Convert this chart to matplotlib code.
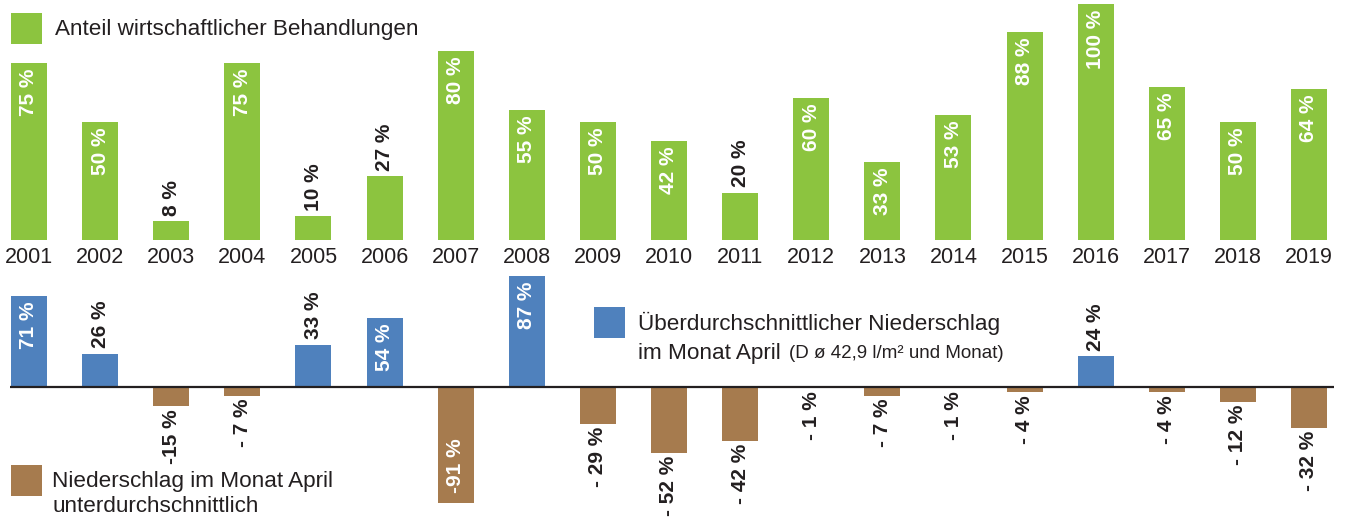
import matplotlib
matplotlib.use("Agg")
import matplotlib.pyplot as plt
from matplotlib.patches import Rectangle

plt.rcParams["font.family"] = ["Liberation Sans", "DejaVu Sans"]

years = [str(y) for y in range(2001, 2020)]
share_econ = [75, 50, 8, 75, 10, 27, 80, 55, 50, 42, 20, 60, 33, 53, 88, 100, 65, 50, 64]
rain_dev = [71, 26, -15, -7, 33, 54, -91, 87, -29, -52, -42, -1, -7, -1, -4, 24, -4, -12, -32]
rain_labels = ["71 %", "26 %", "-15 %", "- 7 %", "33 %", "54 %", "-91 %", "87 %", "- 29 %",
               "- 52 %", "- 42 %", "- 1 %", "- 7 %", "- 1 %", "- 4 %", "24 %", "- 4 %",
               "- 12 %", "- 32 %"]

green = "#8cc43f"
blue = "#4f81bd"
brown = "#a67b4e"
dark = "#231f20"

W, H = 1345, 518
fig = plt.figure(figsize=(W / 100, H / 100), dpi=100)

px_per_unit = 71.11
x0 = -29 / px_per_unit
x1 = x0 + W / px_per_unit
xs = list(range(len(years)))
bw = 0.506
vsize = 15

# top panel: share of economic treatments
ax1 = fig.add_axes([0, (H - 240) / H, 1, 236 / H])
ax1.bar(xs, share_econ, width=bw, color=green)
ax1.set_xlim(x0, x1)
ax1.set_ylim(0, 100)
ax1.set_xticks(xs, years)
ax1.tick_params(axis="x", length=0, pad=5, labelsize=15.5, labelcolor=dark)
ax1.set_yticks([])
for s in ax1.spines.values():
    s.set_visible(False)
ax1.patch.set_visible(False)

for x, v in zip(xs, share_econ):
    if v >= 30:
        ax1.annotate(f"{v} %", (x, v), xytext=(0, -4), textcoords="offset points",
                     rotation=90, ha="center", va="top", color="white",
                     fontsize=vsize, fontweight="bold", annotation_clip=False)
    else:
        ax1.annotate(f"{v} %", (x, v), xytext=(0, 4), textcoords="offset points",
                     rotation=90, ha="center", va="bottom", color=dark,
                     fontsize=vsize, fontweight="bold", annotation_clip=False)

# bottom panel: April precipitation deviation
ppp = 1.277
top_lim = (387 - 270) / ppp
bot_lim = -(H - 387) / ppp
ax2 = fig.add_axes([0, 0, 1, 248 / H])
cols = [blue if v > 0 else brown for v in rain_dev]
ax2.bar(xs, rain_dev, width=bw, color=cols)
ax2.hlines(0, -0.27, 18.35, color=dark, lw=1.6)
ax2.set_xlim(x0, x1)
ax2.set_ylim(bot_lim, top_lim)
ax2.axis("off")

for x, v, lab in zip(xs, rain_dev, rain_labels):
    kw = dict(rotation=90, ha="center", fontsize=vsize, fontweight="bold",
              annotation_clip=False)
    if v >= 53:
        ax2.annotate(lab, (x, v), xytext=(0, -4), textcoords="offset points",
                     va="top", color="white", **kw)
    elif v > 0:
        ax2.annotate(lab, (x, v), xytext=(0, 4), textcoords="offset points",
                     va="bottom", color=dark, **kw)
    elif v <= -53:
        ax2.annotate(lab, (x, v), xytext=(0, 7), textcoords="offset points",
                     va="bottom", color="white", **kw)
    else:
        ax2.annotate(lab, (x, v), xytext=(0, -2), textcoords="offset points",
                     va="top", color=dark, **kw)

# legends
def square(xp, yp, color):
    fig.add_artist(Rectangle((xp / W, 1 - (yp + 31) / H), 31 / W, 31 / H,
                             transform=fig.transFigure, color=color, lw=0))

lsize = 16.2
square(11, 13, green)
fig.text(55 / W, 1 - 30 / H, "Anteil wirtschaftlicher Behandlungen",
         va="center", ha="left", fontsize=lsize, color=dark)

square(11, 465, brown)
fig.text(52 / W, 1 - 482 / H, "Niederschlag im Monat April",
         va="center", ha="left", fontsize=lsize, color=dark)
fig.text(52 / W, 1 - 507 / H, "unterdurchschnittlich",
         va="center", ha="left", fontsize=lsize, color=dark)

square(594, 307, blue)
fig.text(638 / W, 1 - 323 / H, "Überdurchschnittlicher Niederschlag",
         va="center", ha="left", fontsize=lsize, color=dark)
fig.text(638 / W, 1 - 353 / H, "im Monat April",
         va="center", ha="left", fontsize=lsize, color=dark)
fig.text(789 / W, 1 - 354 / H, "(D ø 42,9 l/m² und Monat)",
         va="center", ha="left", fontsize=13.5, color=dark)

fig.savefig("out.png", dpi=100)
